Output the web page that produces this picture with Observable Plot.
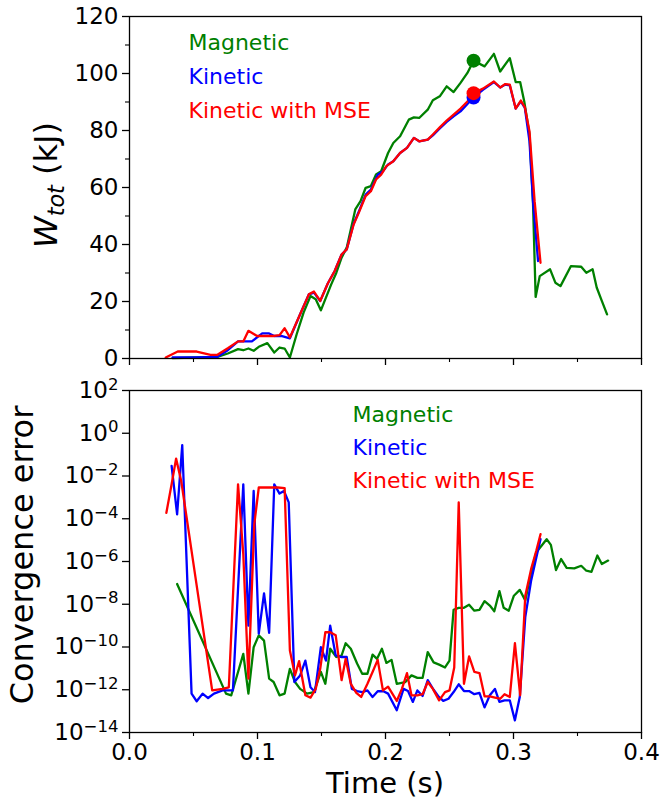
<!DOCTYPE html>
<html>
<head>
<meta charset="utf-8">
<script src="https://cdn.jsdelivr.net/npm/d3@7"></script>
<script src="https://cdn.jsdelivr.net/npm/@observablehq/plot@0.6"></script>
<style>
  html, body { margin: 0; padding: 0; background: #fff; }
  #chart svg { display: block; }
</style>
</head>
<body>
<div id="chart"></div>
<script>
// ---------- Top panel: W_tot (kJ) ----------
const magTopT = [0.0337,0.0512,0.0687,0.0768,0.0848,0.0889,0.0929,0.0970,0.1010,0.1077,0.1131,0.1172,0.1212,0.1253,0.1306,0.1360,0.1414,0.1455,0.1495,0.1576,0.1616,0.1657,0.1697,0.1764,0.1805,0.1845,0.1886,0.1926,0.1966,0.2020,0.2061,0.2114,0.2182,0.2222,0.2263,0.2330,0.2370,0.2424,0.2478,0.2532,0.2586,0.2640,0.2688,0.2774,0.2847,0.2896,0.2971,0.3017,0.3052,0.3084,0.3125,0.3152,0.3173,0.3205,0.3286,0.3327,0.3367,0.3448,0.3529,0.3569,0.3618,0.3650,0.3690,0.3731];
const magTopW = [0.1,0.35,0.6,1.75,3.3,2.9,3.5,2.7,4.1,5.4,2.1,3.85,3.5,0.35,8.5,16.1,21.9,20.8,16.9,26.0,30.1,35.4,38.9,52.3,55.2,59.9,60.5,64.6,65.7,72.1,75.6,78.0,83.8,84.6,84.4,87.3,90.6,92.0,95.5,93.5,96.7,100.2,104.5,102.5,106.9,100.7,105.4,97.0,97.0,90.2,78.6,55.2,21.6,28.9,31.3,26.6,25.4,32.4,32.2,30.1,31.3,24.9,20.2,15.5];

const kinTopT = [0.0337,0.0512,0.0687,0.0768,0.0848,0.0956,0.1037,0.1091,0.1131,0.1185,0.1253,0.1333,0.1401,0.1441,0.1490,0.1549,0.1603,0.1657,0.1697,0.1751,0.1791,0.1845,0.1886,0.1940,0.1980,0.2020,0.2061,0.2114,0.2168,0.2222,0.2263,0.2330,0.2370,0.2424,0.2478,0.2532,0.2586,0.2640,0.2688,0.2761,0.2847,0.2896,0.2936,0.2971,0.3017,0.3057,0.3089,0.3125,0.3152,0.3192];
const kinTopW = [0.35,0.35,0.6,2.9,6.0,6.0,8.8,8.8,7.9,7.9,7.1,15.5,22.5,23.1,20.2,26.3,30.7,36.5,38.3,47.3,51.5,57.5,59.3,64.5,65.7,68.1,69.2,72.1,73.9,77.4,76.2,76.8,78.3,80.7,83.0,85.0,86.7,89.3,91.6,94.3,97.0,95.1,96.1,95.8,87.7,90.2,87.9,76.2,55.2,34.2];

const mseTopT = [0.0283,0.0377,0.0525,0.0633,0.0687,0.0768,0.0848,0.0889,0.0929,0.0997,0.1077,0.1131,0.1172,0.1212,0.1253,0.1333,0.1401,0.1441,0.1490,0.1549,0.1603,0.1657,0.1697,0.1751,0.1791,0.1845,0.1886,0.1926,0.1966,0.2007,0.2061,0.2114,0.2168,0.2222,0.2263,0.2330,0.2370,0.2424,0.2478,0.2532,0.2586,0.2640,0.2688,0.2761,0.2847,0.2896,0.2936,0.2971,0.3017,0.3057,0.3089,0.3125,0.3165,0.3211];
const mseTopW = [0.35,2.45,2.45,1.3,1.3,3.6,6.0,6.0,9.7,7.9,7.9,7.9,8.2,10.6,7.4,15.5,22.5,23.5,20.2,26.3,30.7,36.5,38.3,47.0,51.1,57.0,58.7,62.8,64.5,67.5,69.2,72.1,73.9,77.4,76.2,76.8,78.6,81.1,83.5,85.6,87.7,90.2,93.1,94.7,97.2,95.1,96.3,96.1,87.7,90.5,88.1,79.7,55.2,33.6];

// highlighted points (time, W)
const peakT = [0.2688, 0.2688, 0.2688];
const peakW = [104.5, 91.6, 93.1];
const peakSeries = ["Magnetic", "Kinetic", "Kinetic with MSE"];

// ---------- Bottom panel: convergence error ----------
const magErrT = [0.0372,0.0754,0.0795,0.0848,0.0889,0.0929,0.0970,0.1010,0.1051,0.1091,0.1126,0.1172,0.1212,0.1253,0.1293,0.1333,0.1387,0.1441,0.1495,0.1530,0.1568,0.1616,0.1657,0.1689,0.1729,0.1778,0.1818,0.1859,0.1899,0.1934,0.1972,0.2007,0.2047,0.2088,0.2155,0.2203,0.2249,0.2290,0.2330,0.2376,0.2419,0.2465,0.2500,0.2532,0.2572,0.2613,0.2653,0.2694,0.2734,0.2774,0.2815,0.2850,0.2890,0.2923,0.2963,0.3003,0.3049,0.3092,0.3138,0.3178,0.3219,0.3259,0.3292,0.3332,0.3372,0.3415,0.3475,0.3529,0.3569,0.3609,0.3655,0.3690,0.3739];
const magErr = [8.9e-8,6.6e-13,5.5e-13,6.8e-12,4.8e-11,6.6e-13,9.8e-11,3.5e-10,2.0e-10,3.3e-12,2.3e-12,5.5e-13,6.6e-13,9.5e-12,2.3e-12,1.1e-12,6.6e-13,7.8e-13,6.8e-12,1.9e-12,8.3e-11,3.4e-11,4.0e-11,1.5e-10,8.3e-11,1.7e-11,5.6e-12,5.6e-12,4.4e-11,2.8e-11,8.3e-11,1.8e-11,2.5e-11,1.9e-12,2.3e-12,4.7e-12,3.6e-12,3.6e-12,5.8e-11,1.9e-11,1.5e-11,1.1e-11,2.3e-11,5.5e-9,6.8e-9,6.8e-9,9.5e-9,5.0e-9,5.5e-9,1.4e-8,8.7e-9,4.7e-9,4.1e-8,6.8e-9,5.0e-9,2.5e-8,4.7e-8,1.5e-8,3.1e-7,2.7e-6,5.5e-6,1.1e-5,6.0e-6,4.0e-7,1.3e-6,5.0e-7,4.8e-7,6.3e-7,3.7e-7,3.3e-7,1.9e-6,7.6e-7,1.1e-6];

const kinErrT = [0.0329,0.0372,0.0412,0.0485,0.0525,0.0571,0.0614,0.0660,0.0727,0.0776,0.0808,0.0889,0.0929,0.0970,0.1010,0.1051,0.1091,0.1131,0.1172,0.1207,0.1244,0.1288,0.1333,0.1374,0.1414,0.1449,0.1495,0.1535,0.1568,0.1611,0.1657,0.1697,0.1737,0.1778,0.1818,0.1859,0.1899,0.1939,0.1980,0.2020,0.2088,0.2141,0.2176,0.2214,0.2249,0.2290,0.2330,0.2376,0.2411,0.2451,0.2492,0.2532,0.2572,0.2613,0.2653,0.2694,0.2734,0.2774,0.2815,0.2855,0.2890,0.2930,0.2971,0.3011,0.3049,0.3092,0.3138,0.3178,0.3211];
const kinErr = [3.0e-2,1.6e-4,2.8e-1,6.6e-13,2.9e-13,6.6e-13,4.1e-13,6.6e-13,9.3e-13,9.3e-13,9.3e-13,4.1e-3,1.0e-9,2.0e-3,4.2e-10,3.2e-8,4.6e-10,4.1e-3,1.5e-3,2.0e-3,5.8e-4,2.3e-12,4.7e-12,2.3e-11,1.3e-12,7.8e-13,9.8e-11,2.3e-11,1.0e-9,4.0e-11,3.4e-11,3.4e-11,1.1e-12,8.7e-13,7.8e-13,9.3e-13,4.6e-13,8.5e-13,8.7e-13,6.6e-13,1.1e-13,1.1e-12,8.7e-13,2.7e-13,9.3e-13,5.1e-13,2.8e-12,1.0e-12,5.1e-13,3.0e-13,3.8e-13,7.8e-13,1.8e-12,8.7e-13,8.7e-13,6.2e-13,7.2e-13,1.5e-13,5.5e-13,1.1e-12,2.7e-13,3.2e-13,3.2e-13,3.7e-14,4.6e-13,2.5e-9,1.3e-7,1.5e-6,1.1e-5];

const mseErrT = [0.0288,0.0329,0.0364,0.0404,0.0646,0.0727,0.0776,0.0848,0.0889,0.0929,0.0975,0.1010,0.1077,0.1158,0.1212,0.1253,0.1293,0.1325,0.1374,0.1414,0.1455,0.1490,0.1530,0.1568,0.1611,0.1657,0.1689,0.1729,0.1772,0.1810,0.1859,0.1899,0.1939,0.1980,0.2020,0.2088,0.2128,0.2168,0.2203,0.2249,0.2290,0.2330,0.2370,0.2419,0.2465,0.2500,0.2537,0.2572,0.2613,0.2653,0.2694,0.2734,0.2774,0.2815,0.2855,0.2896,0.2930,0.2971,0.3011,0.3052,0.3092,0.3138,0.3178,0.3211];
const mseErr = [1.9e-4,4.1e-3,6.5e-2,5.9e-3,9.3e-13,1.1e-12,1.3e-12,4.1e-3,2.2e-6,3.3e-12,5.6e-5,2.9e-3,2.9e-3,2.9e-3,2.7e-3,6.9e-11,4.7e-12,2.2e-11,5.5e-13,4.3e-13,1.1e-12,9.5e-12,4.9e-10,4.9e-10,3.5e-10,2.8e-12,2.8e-11,1.9e-12,7.1e-13,4.6e-13,1.9e-12,6.8e-12,2.5e-11,9.3e-13,1.4e-12,3.0e-13,1.1e-12,6.0e-12,5.5e-13,5.5e-13,6.2e-13,2.3e-12,1.1e-12,3.2e-13,7.8e-13,9.3e-13,1.1e-11,5.8e-4,1.9e-12,3.6e-11,6.8e-12,6.0e-12,4.9e-13,4.9e-13,4.3e-13,3.8e-13,6.2e-13,4.6e-13,1.5e-10,5.5e-13,2.5e-8,4.5e-7,3.2e-6,1.9e-5];

// ---------- axes / labels ----------
const seriesNames = ["Magnetic", "Kinetic", "Kinetic with MSE"];
const seriesColors = ["#008000", "#0000ff", "#ff0000"];
const xMajor = [0, 0.1, 0.2, 0.3, 0.4];
const xMinor = [0.05, 0.15, 0.25, 0.35];
const wMajor = [0, 20, 40, 60, 80, 100, 120];
const wMinor = [10, 30, 50, 70, 90, 110];
const errTicks = [1e-14, 1e-12, 1e-10, 1e-8, 1e-6, 1e-4, 1e-2, 1e0, 1e2];
const xLabel = "Time (s)";
const errLabel = "Convergence error";

// ---------- build ----------
const pairs = (t, v) => t.slice(0, Math.min(t.length, v.length)).map((x, i) => ({x, y: v[i]}));
const W = 662;
const ML = 129, MR = 21;
const FONT = "DejaVu Sans, sans-serif";
const TICKFS = 23, YLABELFS = 32, XLABELFS = 29, LEGFS = 22;
const LW = 2.3;

const topPlot = Plot.plot({
  width: W, height: 374,
  marginTop: 16, marginBottom: 16, marginLeft: ML, marginRight: MR,
  style: {fontFamily: FONT, fontSize: TICKFS + "px", color: "black", background: "white", overflow: "visible"},
  x: {domain: [0, 0.4], axis: null},
  y: {domain: [0, 120], axis: null},
  marks: [
    Plot.axisY({ticks: wMajor, label: null, tickSize: 7, tickPadding: 4, strokeWidth: 1.3, fontSize: TICKFS, tickFormat: d => String(d)}),
    Plot.axisY({ticks: wMinor, label: null, tickSize: 4, strokeWidth: 1.1, tickFormat: () => ""}),
    Plot.axisX({ticks: xMajor, label: null, tickSize: 7, strokeWidth: 1.3, tickFormat: () => ""}),
    Plot.axisX({ticks: xMinor, label: null, tickSize: 4, strokeWidth: 1.1, tickFormat: () => ""}),
    Plot.line(pairs(magTopT, magTopW), {x: "x", y: "y", stroke: seriesColors[0], strokeWidth: LW}),
    Plot.line(pairs(kinTopT, kinTopW), {x: "x", y: "y", stroke: seriesColors[1], strokeWidth: LW}),
    Plot.line(pairs(mseTopT, mseTopW), {x: "x", y: "y", stroke: seriesColors[2], strokeWidth: LW}),
    Plot.dot(peakT.map((t, i) => ({x: t, y: peakW[i], s: peakSeries[i]})), {
      x: "x", y: "y", r: 7, fill: d => seriesColors[seriesNames.indexOf(d.s)], stroke: "none",
      sort: null
    }),
    Plot.frame({stroke: "black", strokeWidth: 1.3}),
    ...seriesNames.map((name, i) => Plot.text([name], {
      frameAnchor: "top-left", text: d => d, textAnchor: "start", lineAnchor: "bottom",
      dx: 59, dy: 33 + 34 * i, fill: seriesColors[i], fontSize: LEGFS
    }))
  ]
});

const botPlot = Plot.plot({
  width: W, height: 433,
  marginTop: 16, marginBottom: 75, marginLeft: ML, marginRight: MR,
  style: {fontFamily: FONT, fontSize: TICKFS + "px", color: "black", background: "white", overflow: "visible"},
  x: {domain: [0, 0.4], axis: null},
  y: {type: "log", domain: [1e-14, 1e2], axis: null},
  marks: [
    Plot.axisY({ticks: errTicks, label: null, tickSize: 7, tickPadding: 4, strokeWidth: 1.3, fontSize: TICKFS,
      tickFormat: d => "10^" + Math.round(Math.log10(d))}),
    Plot.axisX({ticks: xMajor, label: null, tickSize: 7, tickPadding: 4, strokeWidth: 1.3, fontSize: TICKFS,
      tickFormat: d => d.toFixed(1)}),
    Plot.axisX({ticks: xMinor, label: null, tickSize: 4, strokeWidth: 1.1, tickFormat: () => ""}),
    Plot.line(pairs(magErrT, magErr), {x: "x", y: "y", stroke: seriesColors[0], strokeWidth: LW}),
    Plot.line(pairs(kinErrT, kinErr), {x: "x", y: "y", stroke: seriesColors[1], strokeWidth: LW}),
    Plot.line(pairs(mseErrT, mseErr), {x: "x", y: "y", stroke: seriesColors[2], strokeWidth: LW}),
    Plot.frame({stroke: "black", strokeWidth: 1.3}),
    ...seriesNames.map((name, i) => Plot.text([name], {
      frameAnchor: "top-left", text: d => d, textAnchor: "start", lineAnchor: "bottom",
      dx: 223, dy: 31 + 33 * i, fill: seriesColors[i], fontSize: LEGFS
    }))
  ]
});

// superscript exponents on the log axis labels
d3.select(botPlot).selectAll('g[aria-label="y-axis tick label"] text').each(function() {
  const s = this.textContent;
  const m = s.match(/^10\^(-?\d+)$/);
  if (!m) return;
  const e = m[1].replace("-", "\u2212");
  const t = d3.select(this);
  t.text("10");
  t.append("tspan").attr("dy", "-0.5em").attr("font-size", "0.72em").text(e);
});

// y label top: W_tot (kJ)
{
  const svg = d3.select(topPlot);
  const cy = (16 + 358) / 2 - 2;
  const t = svg.append("text")
    .attr("transform", `translate(57,${cy}) rotate(-90)`)
    .attr("text-anchor", "middle")
    .attr("font-family", FONT)
    .attr("font-size", YLABELFS)
    .attr("fill", "black");
  t.append("tspan").attr("font-style", "italic").text("W");
  t.append("tspan").attr("font-style", "italic").attr("font-size", "0.7em").attr("dy", "0.3em").text("tot");
  t.append("tspan").attr("dy", "-0.21em").text("\u00a0(kJ)");
}
// y label bottom + x label
{
  const svg = d3.select(botPlot);
  const cy = 16 + 342 / 2 - 6;
  svg.append("text")
    .attr("transform", `translate(33,${cy}) rotate(-90)`)
    .attr("text-anchor", "middle")
    .attr("font-family", FONT)
    .attr("font-size", YLABELFS)
    .attr("fill", "black")
    .text(errLabel);
  svg.append("text")
    .attr("x", (ML + (W - MR)) / 2)
    .attr("y", 419)
    .attr("text-anchor", "middle")
    .attr("font-family", FONT)
    .attr("font-size", XLABELFS)
    .attr("fill", "black")
    .text(xLabel);
}

document.getElementById("chart").append(topPlot, botPlot);
</script>
</body>
</html>
